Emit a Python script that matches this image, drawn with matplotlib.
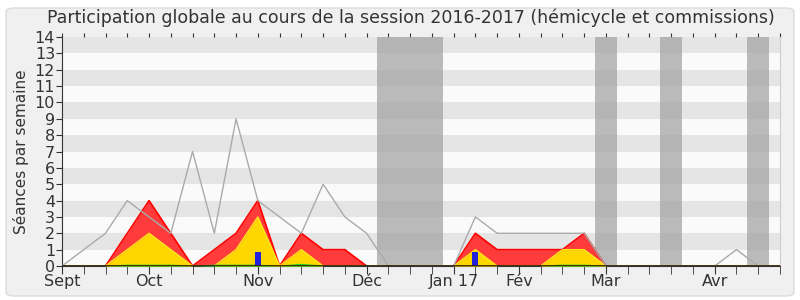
import matplotlib
matplotlib.use("Agg")
import matplotlib.pyplot as plt
from matplotlib.patches import FancyBboxPatch
import numpy as np

weeks = list(range(34))
# total présence (grey line)
median_line = [0, 1, 2, 4, 3, 2, 7, 2, 9, 4, 3, 2, 5, 3, 2, 0, 0, 0,
               0, 3, 2, 2, 2, 2, 2, 0, 0, 0, 0, 0, 0, 1, 0, 0]
red_vals = [0, 0, 0, 2, 4, 2, 0, 1, 2, 4, 0, 2, 1, 1, 0, 0, 0, 0,
            0, 2, 1, 1, 1, 1, 2, 0, 0, 0, 0, 0, 0, 0, 0, 0]
yellow_vals = [0, 0, 0, 1, 2, 1, 0, 0, 1, 3, 0, 1, 0, 0, 0, 0, 0, 0,
               0, 1, 0, 0, 0, 1, 1, 0, 0, 0, 0, 0, 0, 0, 0, 0]
green_vals = [0, 0, 0, 0.05, 0.05, 0.05, 0, 0.05, 0.05, 0.05, 0, 0.1, 0, 0, 0, 0, 0, 0,
              0, 0, 0, 0, 0, 0.05, 0.05, 0, 0, 0, 0, 0, 0, 0, 0, 0]
blue_weeks = [9, 19]
blue_vals = [0.88, 0.88]
vacances = [(14.5, 17.5), (24.5, 25.5), (27.5, 28.5), (31.5, 32.5)]
month_pos = [0, 4, 9, 14, 18, 21, 25, 30]
month_labels = ["Sept", "Oct", "Nov", "Déc", "Jan 17", "Fév", "Mar", "Avr"]
title = "Participation globale au cours de la session 2016-2017 (hémicycle et commissions)"
ylabel = "Séances par semaine"

fig = plt.figure(figsize=(8, 3), dpi=100)
fig.patch.set_facecolor("white")
box = FancyBboxPatch((6 / 800, 4 / 300), 788 / 800, 288 / 300,
                     boxstyle="round,pad=0,rounding_size=0.012",
                     transform=fig.transFigure, facecolor="#f0f0f0",
                     edgecolor="#dcdcdc", linewidth=1, zorder=-10)
fig.patches.append(box)

ax = fig.add_axes([62 / 800, 1 - 266 / 300, 718 / 800, 229 / 300])
ax.set_facecolor("#fafafa")
ax.set_xlim(0, 33)
ax.set_ylim(0, 14)

for y0 in range(1, 14, 2):
    ax.axhspan(y0, y0 + 1, color="#e5e5e5", zorder=0, lw=0)
for a, b in vacances:
    ax.axvspan(a, b, color="#a0a0a0", alpha=0.7, zorder=1, lw=0)

x = np.array(weeks)
ax.fill_between(x, red_vals, color="#ff3b3b", zorder=2, lw=0)
ax.plot(x, red_vals, color="#ff0000", lw=1.2, zorder=3)
ax.fill_between(x, yellow_vals, color="#ffd700", zorder=4, lw=0)
ax.plot(x, yellow_vals, color="#ffe81a", lw=1.0, zorder=5)
ax.fill_between(x, green_vals, color="#22dd22", zorder=6, lw=0)
ax.plot(x, green_vals, color="#22cc22", lw=0.8, zorder=6)
ax.plot(x, median_line, color="#aaaaaa", lw=1.0, zorder=7)
ax.bar(blue_weeks, blue_vals, width=0.28, color="#2222dd", zorder=8)
ax.axhline(0, color="#3a1a00", lw=1.2, zorder=9)

ax.set_yticks(range(0, 15))
ax.set_xticks(month_pos)
ax.set_xticklabels(month_labels)
ax.set_xticks(weeks, minor=True)
ax.tick_params(axis="y", labelsize=11.5, length=4, color="#333333", labelcolor="#333333", pad=1)
ax.tick_params(axis="x", which="both", length=6, color="#333333", labelsize=11.5,
               labelcolor="#333333", pad=0, direction="out")

sec = ax.secondary_xaxis("top")
sec.set_xticks(weeks)
sec.tick_params(axis="x", length=3, color="#333333", labelsize=0, labeltop=False)
sec.spines["top"].set_visible(False)

ax.spines["top"].set_visible(False)
ax.spines["right"].set_color("#cccccc")
ax.spines["left"].set_color("#333333")
ax.spines["bottom"].set_color("#333333")

ax.set_ylabel(ylabel, fontsize=11, color="#333333", labelpad=4)
fig.text(411 / 800, 1 - 18 / 300, title, ha="center", va="center", fontsize=12.5, color="#333333")

fig.savefig("out.png", dpi=100, facecolor=fig.get_facecolor())
